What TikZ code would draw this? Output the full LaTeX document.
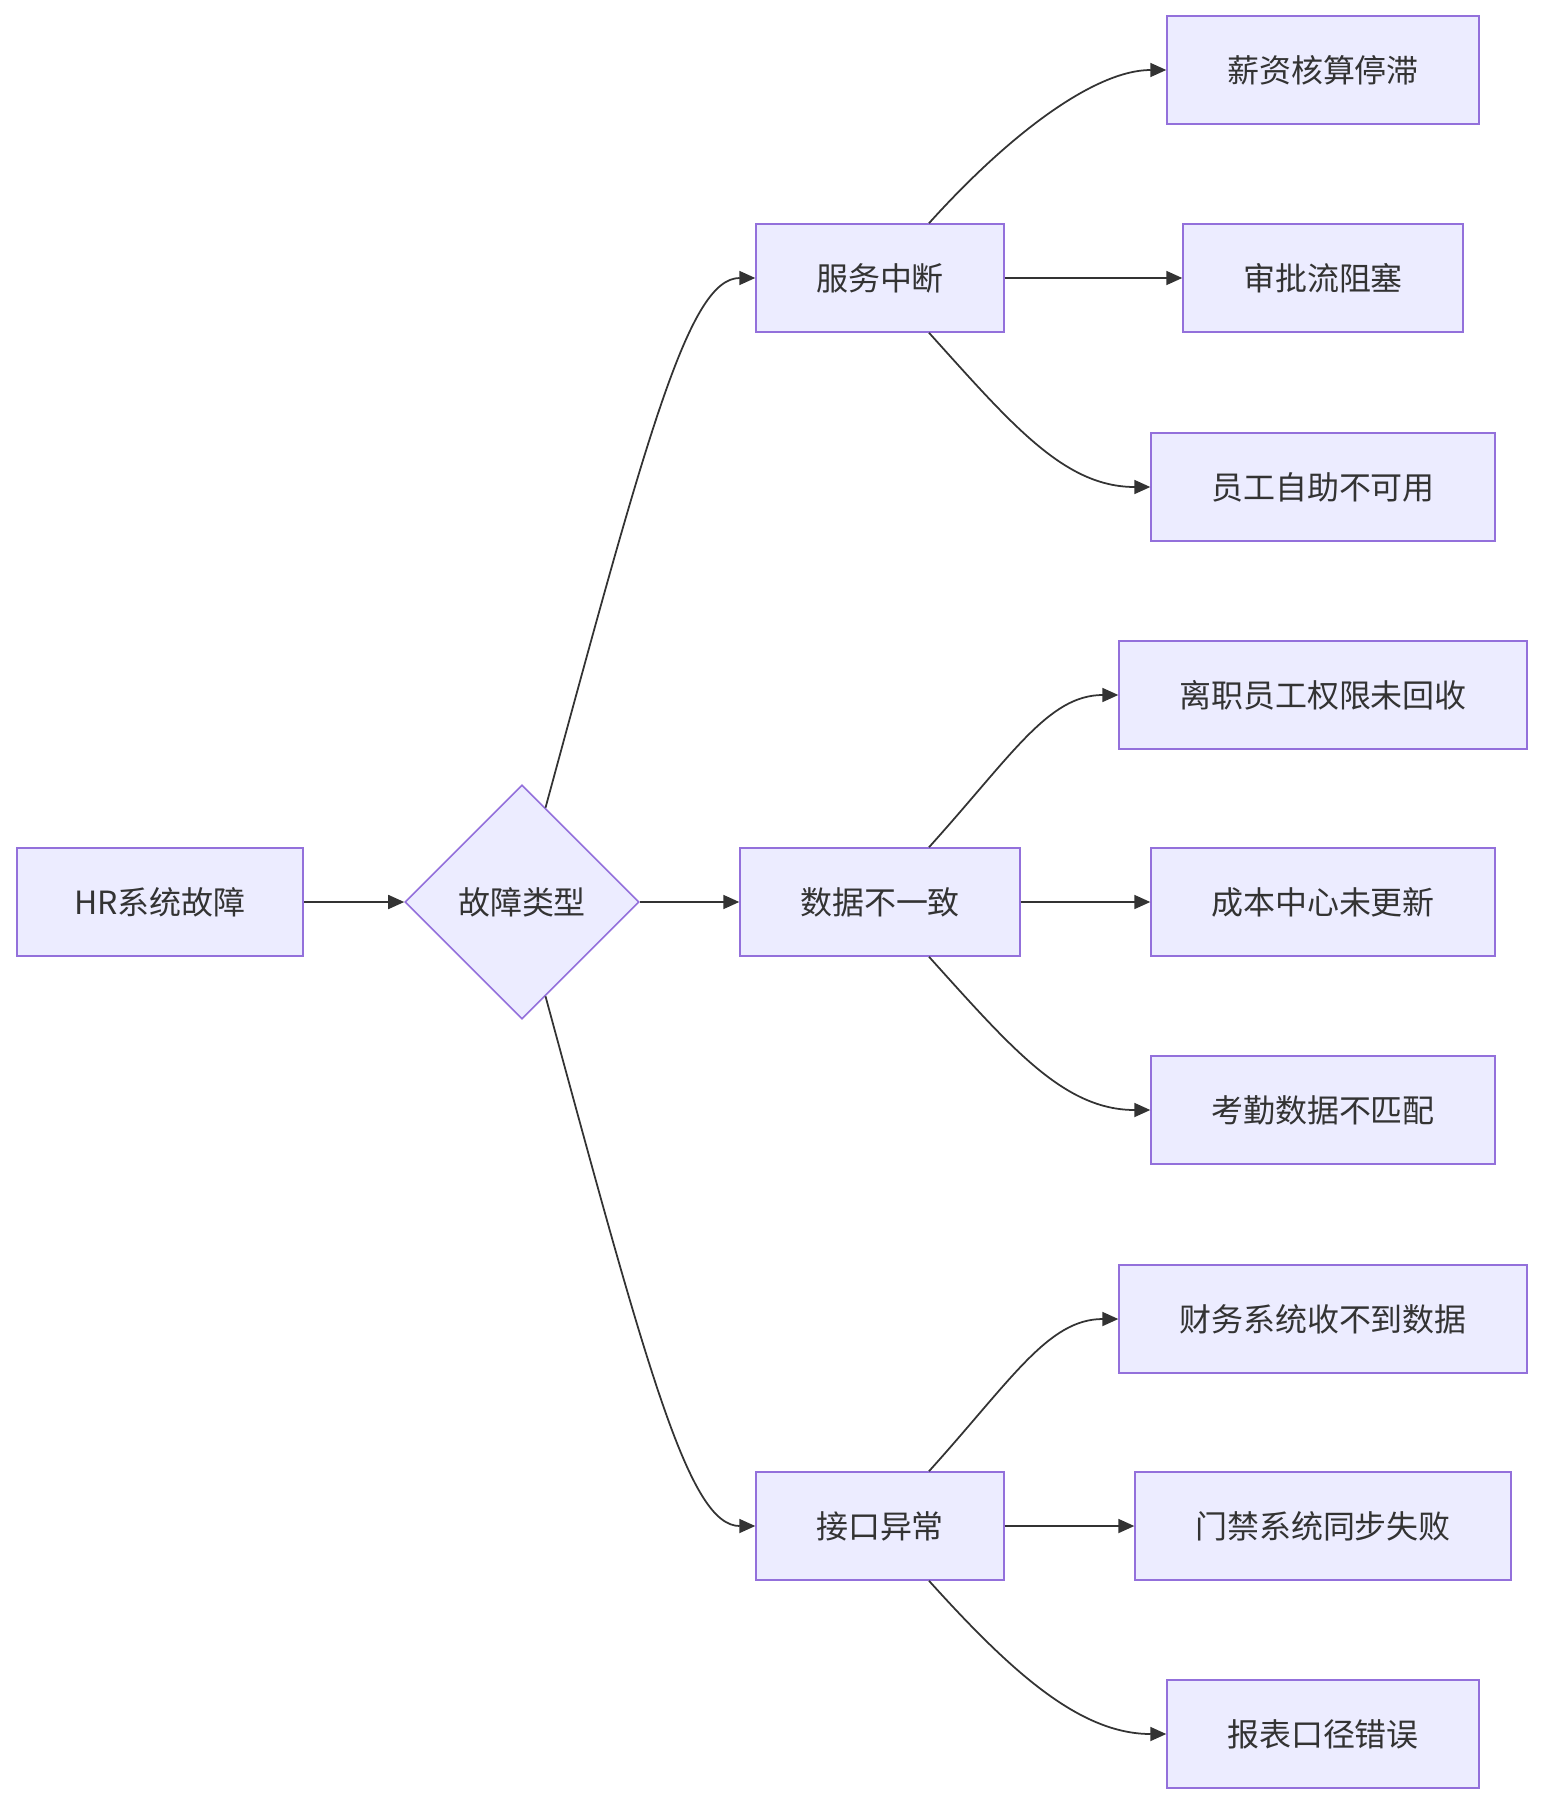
\documentclass[tikz,border=0pt]{standalone}
\usepackage{fontspec}
\setmainfont{Noto Sans CJK SC}
\definecolor{mmfill}{HTML}{ECECFF}
\definecolor{mmborder}{HTML}{9370DB}
\definecolor{mmline}{HTML}{333333}
\usetikzlibrary{arrows.meta,shapes.geometric,calc}

\begin{document}
\begin{tikzpicture}[
  x=0.02cm, y=-0.02cm,
  failbox/.style={
    rectangle,
    minimum height=2.16cm, inner xsep=1.2cm,
    draw=mmborder, line width=0.9pt,
    fill=mmfill,
    font=\fontsize{18.2}{22}\selectfont,
    text=mmline
  },
  decide/.style={
    diamond, aspect=1, inner sep=0pt,
    minimum width=4.68cm, minimum height=4.68cm,
    draw=mmborder, line width=0.9pt,
    fill=mmfill,
    font=\fontsize{18.2}{22}\selectfont,
    text=mmline
  },
  conn/.style={-{Triangle[length=0.32cm, width=0.28cm]}, line width=1pt, draw=mmline}
]
\useasboundingbox (0,0) rectangle (1543,1804);

\node[failbox, inner xsep=1.15cm] (root) at (160,902)  {HR系统故障};
\node[decide]  (kind) at (522,902)  {故障类型};

\node[failbox] (t1) at (880,278)  {服务中断};
\node[failbox] (t2) at (880,902)  {数据不一致};
\node[failbox] (t3) at (880,1526) {接口异常};

\node[failbox] (c11) at (1323,70)   {薪资核算停滞};
\node[failbox] (c12) at (1323,278)  {审批流阻塞};
\node[failbox] (c13) at (1323,487)  {员工自助不可用};
\node[failbox] (c21) at (1323,695)  {离职员工权限未回收};
\node[failbox] (c22) at (1323,902)  {成本中心未更新};
\node[failbox] (c23) at (1323,1110) {考勤数据不匹配};
\node[failbox] (c31) at (1323,1319) {财务系统收不到数据};
\node[failbox] (c32) at (1323,1526) {门禁系统同步失败};
\node[failbox] (c33) at (1323,1734) {报表口径错误};

\draw[conn] (root) -- (kind);
\draw[conn] (kind.76) .. controls +(103,-379) and +(-66,0) .. (t1.west);
\draw[conn] (kind.east) -- (t2.west);
\draw[conn] (kind.-76) .. controls +(103,379) and +(-66,0) .. (t3.west);

\foreach \t in {1,2,3} {
  \draw[conn] ($(t\t.north)+(49,0)$) .. controls +(83,-92) and +(-70,0) .. (c\t1.west);
  \draw[conn] (t\t.east) -- (c\t2.west);
  \draw[conn] ($(t\t.south)+(49,0)$) .. controls +(83,92) and +(-86,0) .. (c\t3.west);
}
\end{tikzpicture}
\end{document}
